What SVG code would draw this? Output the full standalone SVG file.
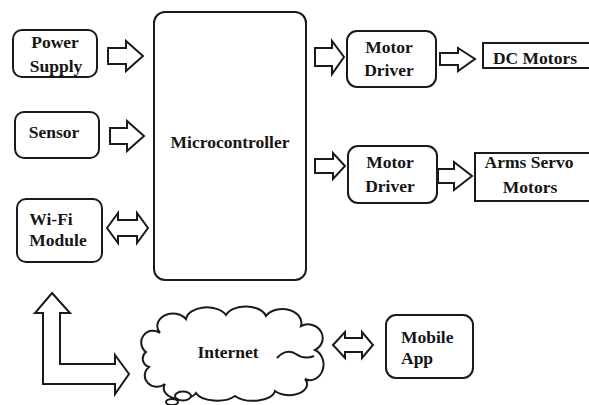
<svg xmlns="http://www.w3.org/2000/svg" width="589" height="405" viewBox="0 0 589 405">
  <style>
    .box { fill: #ffffff; stroke: #1a1a1a; stroke-width: 2; }
    .blk { fill: #ffffff; stroke: #1a1a1a; stroke-width: 2; stroke-linejoin: miter; }
    .lbl { font-family: "Liberation Serif", "DejaVu Serif", serif; font-weight: 700; font-size: 17.5px; fill: #151515; }
    .mid { text-anchor: middle; }
  </style>
  <rect width="589" height="405" fill="#ffffff"/>

  <!-- connectors: hollow block arrows -->
  <g id="connectors">
    <polygon class="blk" points="108,48 126,48 126,41 143,56 126,71 126,64 108,64"/>
    <polygon class="blk" points="110,128 127,128 127,121 144,136 127,151 127,144 110,144"/>
    <polygon class="blk" points="107,228 118,213 118,220 137,220 137,213 148,228 137,243 137,236 118,236 118,243"/>
    <polygon class="blk" points="315,48 332,48 332,41 344,57 332,74 332,66 315,66"/>
    <polygon class="blk" points="440,53 458,53 458,48 475,59 458,71 458,65 440,65"/>
    <polygon class="blk" points="315,159 333,159 333,153 345,166 333,179 333,173 315,173"/>
    <polygon class="blk" points="438,169 454,169 454,162 472,176 454,190 454,183 438,183"/>
    <polygon class="blk" points="333,345 345,332 345,338 362,338 362,332 373,345 362,358 362,352 345,352 345,358"/>
    <polygon class="blk" points="52,293 70,313 60,313 60,364 115,364 115,355 129,374 115,394 115,384 43,384 43,313 35,313"/>
  </g>

  <g id="power-supply">
    <rect class="box" x="13" y="30" width="84" height="47" rx="9"/>
    <text class="lbl mid" x="55" y="48">Power</text>
    <text class="lbl mid" x="56" y="72">Supply</text>
  </g>

  <g id="sensor">
    <rect class="box" x="15" y="112" width="84" height="46" rx="9"/>
    <text class="lbl mid" x="54" y="138">Sensor</text>
  </g>

  <g id="wifi-module">
    <rect class="box" x="17" y="199" width="85" height="63" rx="9"/>
    <text class="lbl mid" x="51" y="225">Wi-Fi</text>
    <text class="lbl mid" x="58" y="246">Module</text>
  </g>

  <g id="microcontroller">
    <rect class="box" x="154" y="12" width="152" height="268" rx="11"/>
    <text class="lbl mid" x="230" y="148">Microcontroller</text>
  </g>

  <g id="motor-driver-1">
    <rect class="box" x="347" y="31" width="89" height="56" rx="10"/>
    <text class="lbl mid" x="389" y="53">Motor</text>
    <text class="lbl mid" x="389" y="76">Driver</text>
  </g>

  <g id="dc-motors">
    <rect class="box" x="483" y="43" width="112" height="25"/>
    <text class="lbl mid" x="535" y="64">DC Motors</text>
  </g>

  <g id="motor-driver-2">
    <rect class="box" x="348" y="146" width="89" height="57" rx="10"/>
    <text class="lbl mid" x="390" y="168">Motor</text>
    <text class="lbl mid" x="390" y="192">Driver</text>
  </g>

  <g id="arms-servo-motors">
    <rect class="box" x="475" y="153" width="120" height="48"/>
    <text class="lbl mid" x="529" y="168">Arms Servo</text>
    <text class="lbl mid" x="530" y="193">Motors</text>
  </g>

  <g id="internet">
    <path class="box" d="M160,333 A15,12 0 0,1 186,319 A21,13 0 0,1 226,315 A21,13 0 0,1 266,316 A19,14 0 0,1 301,326 A14,13 0 0,1 315,350 A13,15 0 0,1 305,379 A18,11 0 0,1 275,391 A22,11 0 0,1 235,396 A22,11 0 0,1 196,393 A17,11 0 0,1 165,384 A12,11 0 0,1 149,367 A10,9 0 0,1 146,352 A10,10 0 0,1 160,333 Z"/>
    <path fill="none" stroke="#1a1a1a" stroke-width="2" d="M277,358 Q286,348 296,354 Q304,360 314,356"/>
    <ellipse class="box" cx="183" cy="396" rx="8" ry="4.5"/>
    <ellipse class="box" cx="172" cy="402" rx="6" ry="3"/>
    <text class="lbl mid" x="228" y="358">Internet</text>
  </g>

  <g id="mobile-app">
    <rect class="box" x="386" y="315" width="87" height="63" rx="10"/>
    <text class="lbl" x="401" y="343">Mobile</text>
    <text class="lbl" x="401" y="364">App</text>
  </g>
</svg>
